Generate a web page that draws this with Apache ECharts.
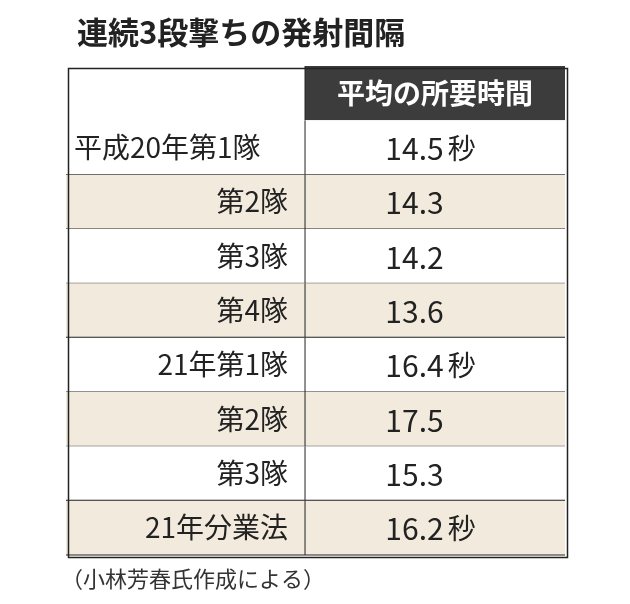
<!DOCTYPE html>
<html lang="ja">
<head>
<meta charset="UTF-8">
<script src="https://cdn.jsdelivr.net/npm/echarts@6/dist/echarts.min.js"></script>
<style>
  body { margin: 0; background: #fff; }
  #chart { width: 630px; height: 604px; }
</style>
</head>
<body>
<div id="chart"></div>
<script>
const header = '平均の所要時間';
const labels = ['平成20年第1隊', '第2隊', '第3隊', '第4隊', '21年第1隊', '第2隊', '第3隊', '21年分業法'];
const values = ['14.5', '14.3', '14.2', '13.6', '16.4', '17.5', '15.3', '16.2'];
const units = ['秒', '', '', '', '秒', '', '', '秒'];
const groupEnds = [3, 6]; // thick rule after these rows

const font = '"Noto Sans CJK JP", sans-serif';
const split = 0.479;

let chart = echarts.init(document.getElementById('chart'));

function renderRow(params, api) {
    let i = api.value(0);
    let p = api.coord([0, i]);
    let s = api.size([1, 1]);
    let x0 = p[0], y0 = p[1] - s[1] / 2, w = s[0], h = s[1];
    let xs = x0 + w * split;
    let kids = [];
    if (i === 0) {
        kids.push({type: 'rect', shape: {x: xs, y: y0, width: x0 + w - xs, height: h}, style: {fill: '#3c3c3c'}});
        kids.push({type: 'text', style: {text: header, x: (xs + x0 + w) / 2, y: y0 + h / 2, align: 'center', verticalAlign: 'middle',
            fill: '#fff', font: 'bold 28px ' + font}});
    } else {
        let r = i - 1;
        let fill = r % 2 === 1 ? '#f1eadd' : '#fff';
        kids.push({type: 'rect', shape: {x: x0, y: y0, width: w, height: h}, style: {fill: fill}});
        let left = r === 0;
        kids.push({type: 'text', style: {text: labels[r], x: left ? x0 + 8 : xs - 17, y: y0 + h / 2,
            align: left ? 'left' : 'right', verticalAlign: 'middle', fill: '#222', font: '28px ' + font}});
        kids.push({type: 'text', style: {
            text: '{v|' + values[r] + '}' + (units[r] ? '{u|' + units[r] + '}' : ''),
            x: x0 + w * 0.64, y: y0 + h / 2 + 1, align: 'left', verticalAlign: 'middle',
            rich: {
                v: {fill: '#222', fontFamily: font, fontSize: 30},
                u: {fill: '#222', fontFamily: font, fontSize: 28, padding: [0, 0, 0, 4]}
            }}});
        let thick = groupEnds.indexOf(r) >= 0;
        kids.push({type: 'line', shape: {x1: x0, y1: y0 + h, x2: x0 + w, y2: y0 + h},
            style: {stroke: '#222', lineWidth: thick ? 2 : 1}});
    }
    kids.push({type: 'line', shape: {x1: xs, y1: y0, x2: xs, y2: y0 + h}, style: {stroke: '#222', lineWidth: 1}});
    return {type: 'group', children: kids};
}

let option = {
    animation: false,
    title: [{
        text: '連続3段撃ちの発射間隔', left: 72, top: 12,
        textStyle: {fontFamily: font, fontWeight: 'bold', fontSize: 31, color: '#222'}
    }, {
        text: '（小林芳春氏作成による）', left: 56, top: 563,
        textStyle: {fontFamily: font, fontWeight: 'normal', fontSize: 22, color: '#333'}
    }],
    grid: {left: 66, right: 65, top: 66, bottom: 49},
    xAxis: {type: 'value', min: 0, max: 1, show: false},
    yAxis: {type: 'category', inverse: true, show: false, data: ['', ...labels]},
    series: [{
        type: 'custom',
        renderItem: renderRow,
        data: ['', ...labels].map((d, i) => [i]),
        encode: {y: 0}
    }],
    graphic: [{
        type: 'rect', left: 66, top: 66, shape: {width: 499, height: 489},
        style: {fill: 'none', stroke: '#222', lineWidth: 1.5}, z: 100
    }]
};
chart.setOption(option);
</script>
</body>
</html>
